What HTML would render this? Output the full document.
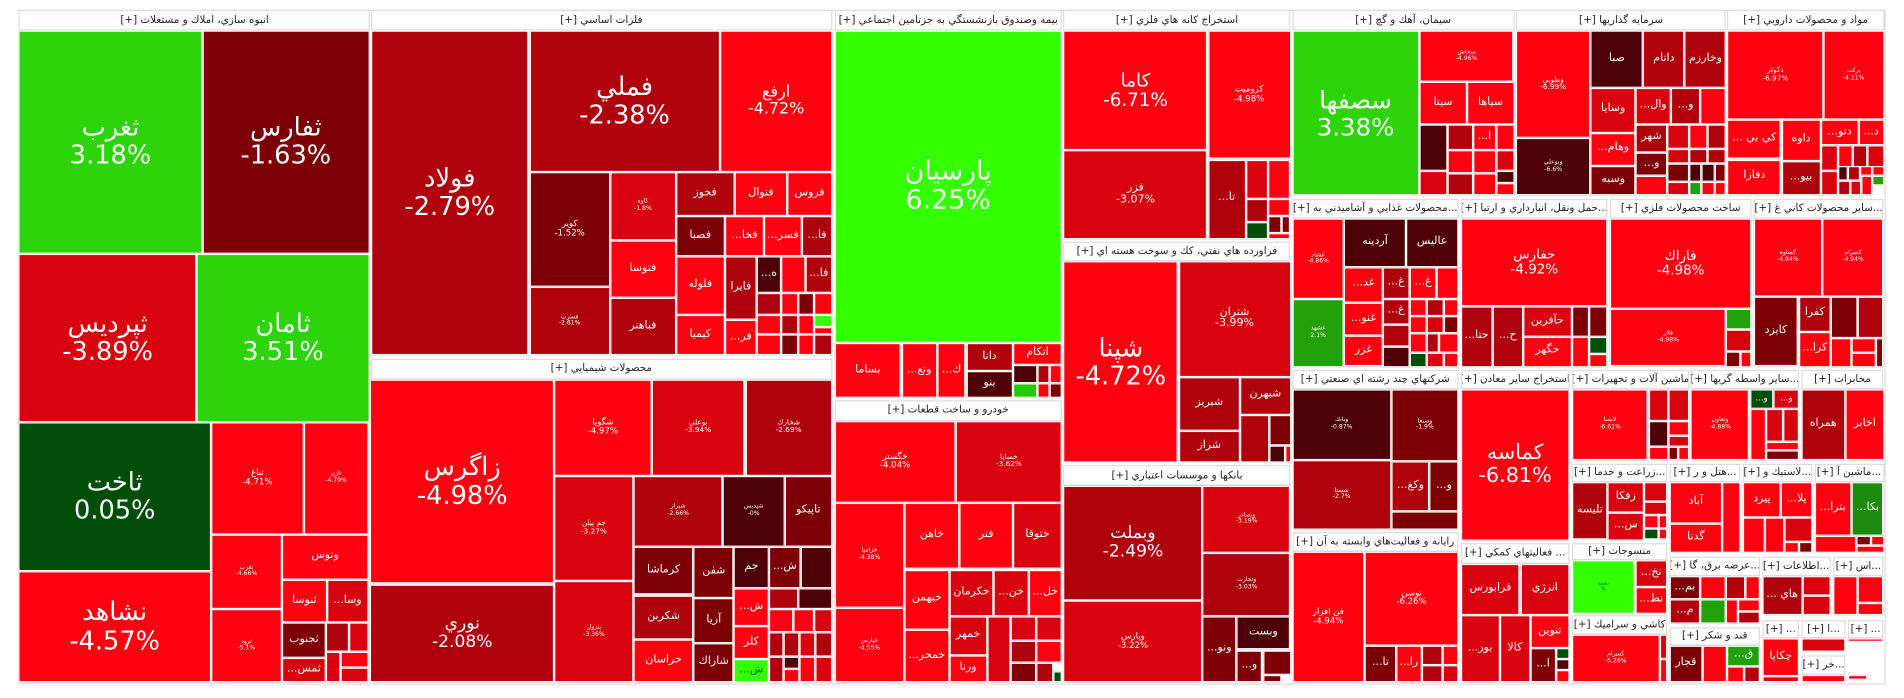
<!DOCTYPE html>
<html><head><meta charset="utf-8">
<style>
html,body{margin:0;padding:0;background:#fff;width:1904px;height:698px;overflow:hidden}
#m{position:absolute;left:0;top:0;width:1560px;height:572px;transform:scale(1.2205);transform-origin:0 0;font-family:"DejaVu Sans","Liberation Sans",sans-serif}
.c{position:absolute;box-sizing:border-box;border:1px solid #fff;color:#fff;display:flex;flex-direction:column;align-items:center;justify-content:center;text-align:center;overflow:hidden;line-height:1.1;white-space:nowrap}
.h{position:absolute;box-sizing:border-box;border:1px solid #ddd;background:#fff;color:#222;font-size:8.5px;display:flex;align-items:center;justify-content:center;direction:rtl;overflow:hidden;white-space:nowrap}
.r{background:#ff0010}.r2{background:#d9030f}.r3{background:#b0020c}.r4{background:#7d0006}.r5{background:#4d0005}
.g1{background:#2dd40a}.g2{background:#33ff00}.g3{background:#014d0a}.g4{background:#22a00a}
.b{font-size:21px}.m{font-size:12px}.s{font-size:9px}.t{font-size:5px}
</style></head><body><div id="m">
<div style="position:absolute;left:14.5px;top:7.5px;width:1530px;height:553px;border:1px solid #ddd;box-sizing:border-box"></div>

<!-- sec1 -->
<div class="h" style="left:15.4px;top:8.2px;width:288px;height:17.2px">انبوه سازي، املاك و مستغلات [+]</div>
<div class="c g1 b" style="left:15.4px;top:25.4px;width:150.3px;height:182.2px">ثغرب<br>3.18%</div>
<div class="c r4 b" style="left:165.7px;top:25.4px;width:137px;height:182.2px">ثفارس<br>-1.63%</div>
<div class="c r2 b" style="left:15.4px;top:207.6px;width:145.6px;height:138px">ثپرديس<br>-3.89%</div>
<div class="c g1 b" style="left:161px;top:207.6px;width:141.8px;height:138px">ثامان<br>3.51%</div>
<div class="c g3 b" style="left:15.4px;top:345.5px;width:157.2px;height:122.3px">ثاخت<br>0.05%</div>
<div class="c r b" style="left:15.4px;top:467.8px;width:157.2px;height:91.5px">نشاهد<br>-4.57%</div>
<div class="c r" style="left:172.6px;top:345.5px;width:76.5px;height:92px;font-size:7px">ثباغ<br>-4.71%</div>
<div class="c r t" style="left:249.1px;top:345.5px;width:52.5px;height:92px">ثاژن<br>-4.79%</div>
<div class="c r t" style="left:172.6px;top:437.5px;width:58.5px;height:61.7px">ثغرب<br>-4.66%</div>
<div class="c r t" style="left:172.6px;top:499.2px;width:58.5px;height:60px">ثرود<br>-5.1%</div>
<div class="c r s" style="left:231.1px;top:437.5px;width:70.5px;height:37.7px">وتوس</div>
<div class="c r s" style="left:231.1px;top:475.2px;width:36.6px;height:34.7px">ثنوسا</div>
<div class="c r2 s" style="left:267.7px;top:475.2px;width:33.9px;height:34.7px">...وسا</div>
<div class="c r4 s" style="left:231.1px;top:509.9px;width:35.8px;height:29.5px">ثجنوب</div>
<div class="c r3" style="left:266.9px;top:509.9px;width:18.8px;height:24.5px"></div>
<div class="c r2" style="left:285.7px;top:509.9px;width:15.9px;height:24.5px"></div>
<div class="c r2 s" style="left:231.1px;top:539.4px;width:35.8px;height:19.9px">...ثمس</div>
<div class="c r2" style="left:266.9px;top:534.4px;width:12.5px;height:24.9px"></div>
<div class="c r" style="left:279.4px;top:534.4px;width:22.2px;height:12.6px"></div>
<div class="c r2" style="left:279.4px;top:547px;width:22.2px;height:12.3px"></div>

<!-- sec2 -->
<div class="h" style="left:303.6px;top:8.2px;width:378.2px;height:17.2px">فلزات اساسي [+]</div>
<div class="c r3 b" style="left:303.6px;top:25.4px;width:129.9px;height:266px">فولاد<br>-2.79%</div>
<div class="c r3 b" style="left:433.5px;top:25.4px;width:156.5px;height:115.2px">فملي<br>-2.38%</div>
<div class="c r" style="left:590px;top:25.4px;width:91.8px;height:115.2px;font-size:13px">ارفع<br>-4.72%</div>
<div class="c r4" style="left:433.5px;top:140.6px;width:66.5px;height:94.3px;font-size:7px">كوير<br>-1.52%</div>
<div class="c r3 t" style="left:433.5px;top:234.9px;width:66.5px;height:56.5px">فسرب<br>-2.61%</div>
<div class="c r2 t" style="left:500px;top:140.6px;width:53.5px;height:56px">كاوه<br>-1.8%</div>
<div class="c r s" style="left:500px;top:196.6px;width:53.5px;height:47.8px">فتوسا</div>
<div class="c r3 s" style="left:500px;top:244.4px;width:53.5px;height:47px">فباهنر</div>
<div class="c r3 s" style="left:553.5px;top:140.6px;width:48.5px;height:36.4px">فخوز</div>
<div class="c r s" style="left:602px;top:140.6px;width:43px;height:36.4px">فنوال</div>
<div class="c r s" style="left:645px;top:140.6px;width:36.8px;height:36.4px">فروس</div>
<div class="c r4 s" style="left:553.5px;top:177px;width:40.5px;height:33px">فصبا</div>
<div class="c r s" style="left:594px;top:177px;width:32px;height:33px">...فخا</div>
<div class="c r s" style="left:626px;top:177px;width:31px;height:33px">...فسر</div>
<div class="c r3 s" style="left:657px;top:177px;width:24.8px;height:33px">...فا</div>
<div class="c r s" style="left:553.5px;top:210px;width:40.5px;height:48px">فلوله</div>
<div class="c r s" style="left:553.5px;top:258px;width:40.5px;height:33.4px">كيميا</div>
<div class="c r3 s" style="left:594px;top:210px;width:26px;height:52px">فايرا</div>
<div class="c r s" style="left:594px;top:262px;width:26px;height:29.4px">...فر</div>
<div class="c r5 s" style="left:620px;top:210px;width:20px;height:30px">...ه</div>
<div class="c r" style="left:640px;top:210px;width:20px;height:30px"></div>
<div class="c r3 s" style="left:660px;top:210px;width:21.8px;height:30px">...فا</div>
<div class="c r3" style="left:620px;top:240px;width:20px;height:18px"></div>
<div class="c r" style="left:640px;top:240px;width:14px;height:18px"></div>
<div class="c r4" style="left:654px;top:240px;width:13px;height:18px"></div>
<div class="c r" style="left:667px;top:240px;width:14.8px;height:18px"></div>
<div class="c r" style="left:620px;top:258px;width:20px;height:16px"></div>
<div class="c r3" style="left:640px;top:258px;width:14px;height:16px"></div>
<div class="c r" style="left:654px;top:258px;width:13px;height:16px"></div>
<div class="c g2" style="left:667px;top:258px;width:14.8px;height:10px"></div>
<div class="c r" style="left:667px;top:268px;width:14.8px;height:6px"></div>
<div class="c r" style="left:620px;top:274px;width:20px;height:17.4px"></div>
<div class="c r4" style="left:640px;top:274px;width:14px;height:17.4px"></div>
<div class="c r" style="left:654px;top:274px;width:13px;height:17.4px"></div>
<div class="c r3" style="left:667px;top:274px;width:14.8px;height:17.4px"></div>

<!-- sec3 chem -->
<div class="h" style="left:303.6px;top:293.6px;width:378.2px;height:17px">محصولات شيميايي [+]</div>
<div class="c r b" style="left:303.2px;top:310.6px;width:151.1px;height:167.9px">زاگرس<br>-4.98%</div>
<div class="c r3" style="left:303.2px;top:478.5px;width:151.1px;height:80.8px;font-size:14px">نوري<br>-2.08%</div>
<div class="c r" style="left:454.3px;top:310.6px;width:79.4px;height:79.2px;font-size:7px">شگويا<br>-4.97%</div>
<div class="c r2" style="left:533.7px;top:310.6px;width:76.8px;height:79.2px;font-size:6px">بوعلي<br>-3.94%</div>
<div class="c r3" style="left:610.5px;top:310.6px;width:71.3px;height:79.2px;font-size:6px">شخارك<br>-2.69%</div>
<div class="c r2" style="left:454.3px;top:389.8px;width:64.7px;height:86px;font-size:6px">جم پيلن<br>-3.27%</div>
<div class="c r2 t" style="left:454.3px;top:475.8px;width:64.7px;height:83.5px">پترول<br>-3.36%</div>
<div class="c r3 t" style="left:519px;top:389.8px;width:73.2px;height:58.1px">شيراز<br>-2.66%</div>
<div class="c r5 t" style="left:592.2px;top:389.8px;width:50.5px;height:58.1px">شپديس<br>-0%</div>
<div class="c r4 s" style="left:642.7px;top:389.8px;width:39.1px;height:58.1px">تاپيكو</div>
<div class="c r4 s" style="left:519px;top:447.9px;width:49.4px;height:39.6px">كرماشا</div>
<div class="c r3 s" style="left:519px;top:487.5px;width:49.4px;height:36.9px">شكربن</div>
<div class="c r s" style="left:519px;top:524.4px;width:49.4px;height:34.9px">خراسان</div>
<div class="c r4 s" style="left:568.4px;top:447.9px;width:32.9px;height:42.4px">شفن</div>
<div class="c r4 s" style="left:568.4px;top:490.3px;width:32.9px;height:36.8px">آريا</div>
<div class="c r4 s" style="left:568.4px;top:527.1px;width:32.9px;height:32.2px">شاراك</div>
<div class="c r5 s" style="left:601.3px;top:447.9px;width:28.7px;height:34.2px">جم</div>
<div class="c r4 s" style="left:630px;top:447.9px;width:26.2px;height:34.2px">...ش</div>
<div class="c r5" style="left:656.2px;top:447.9px;width:25.6px;height:34.2px"></div>
<div class="c r s" style="left:601.3px;top:482.1px;width:28.7px;height:30.8px">...ش</div>
<div class="c r s" style="left:601.3px;top:512.9px;width:28.7px;height:27.3px">كلر</div>
<div class="c g2 s" style="left:601.3px;top:540.2px;width:28.7px;height:19.1px;color:#063">...ش</div>
<div class="c r3" style="left:630px;top:482.1px;width:24.4px;height:17.2px"></div>
<div class="c r5" style="left:654.4px;top:482.1px;width:27.4px;height:17.2px"></div>
<div class="c r" style="left:630px;top:499.3px;width:20px;height:18.3px"></div>
<div class="c r" style="left:650px;top:499.3px;width:17px;height:18.3px"></div>
<div class="c r2" style="left:667px;top:499.3px;width:14.8px;height:18.3px"></div>
<div class="c r3" style="left:630px;top:517.6px;width:12px;height:20.4px"></div>
<div class="c r3" style="left:642px;top:517.6px;width:13px;height:20.4px"></div>
<div class="c r2" style="left:655px;top:517.6px;width:13px;height:20.4px"></div>
<div class="c r3" style="left:668px;top:517.6px;width:13.8px;height:20.4px"></div>
<div class="c r3" style="left:630px;top:538px;width:12px;height:21.3px"></div>
<div class="c r5" style="left:642px;top:538px;width:13px;height:10px"></div>
<div class="c r" style="left:642px;top:548px;width:13px;height:11.3px"></div>
<div class="c r" style="left:655px;top:538px;width:13px;height:21.3px"></div>
<div class="c r2" style="left:668px;top:538px;width:13.8px;height:21.3px"></div>

<!-- sec4 insurance -->
<div class="h" style="left:683.6px;top:8.2px;width:186.6px;height:17.2px">بيمه وصندوق بازنشستگي به جزتامين اجتماعي [+]</div>
<div class="c g2" style="left:683.6px;top:25.4px;width:186.6px;height:255.9px;font-size:22px">پارسيان<br>6.25%</div>
<div class="c r s" style="left:683.6px;top:281.3px;width:54.9px;height:45.1px">بساما</div>
<div class="c r s" style="left:738.5px;top:281.3px;width:29.3px;height:45.1px">...وتع</div>
<div class="c r s" style="left:767.8px;top:281.3px;width:23.7px;height:45.1px">...ك</div>
<div class="c r3 s" style="left:791.5px;top:281.3px;width:38.5px;height:22.4px">دانا</div>
<div class="c r5 s" style="left:791.5px;top:303.7px;width:38.5px;height:22.7px">بنو</div>
<div class="c r s" style="left:830px;top:281.3px;width:40.2px;height:17.8px">اتكام</div>
<div class="c r5" style="left:830px;top:299.1px;width:20px;height:14.5px"></div>
<div class="c r3" style="left:850px;top:299.1px;width:10px;height:14.5px"></div>
<div class="c r" style="left:860px;top:299.1px;width:10.2px;height:14.5px"></div>
<div class="c g4" style="left:830px;top:313.6px;width:20px;height:12.8px;background:#22cc00"></div>
<div class="c r" style="left:850px;top:313.6px;width:10px;height:12.8px"></div>
<div class="c r4" style="left:860px;top:313.6px;width:10.2px;height:12.8px"></div>

<!-- sec5 auto -->
<div class="h" style="left:683.6px;top:327.8px;width:186.6px;height:17.2px">خودرو و ساخت قطعات [+]</div>
<div class="c r" style="left:683.6px;top:345px;width:99.5px;height:66.6px;font-size:7px">خگستر<br>-4.04%</div>
<div class="c r2" style="left:783.1px;top:345px;width:87.1px;height:66.6px;font-size:6px">خساپا<br>-3.62%</div>
<div class="c r t" style="left:683.6px;top:411.6px;width:57.5px;height:86.8px">خزاميا<br>-4.38%</div>
<div class="c r t" style="left:683.6px;top:498.4px;width:57.5px;height:60.9px">خپارس<br>-4.55%</div>
<div class="c r s" style="left:741.1px;top:411.6px;width:44.9px;height:54.9px">خاهن</div>
<div class="c r s" style="left:786px;top:411.6px;width:44px;height:54.9px">فنر</div>
<div class="c r2 s" style="left:830px;top:411.6px;width:40.2px;height:54.9px">ختوقا</div>
<div class="c r s" style="left:741.1px;top:466.5px;width:36.6px;height:49.7px">خبهمن</div>
<div class="c r s" style="left:741.1px;top:516.2px;width:36.6px;height:43.1px">...خمحر</div>
<div class="c r2 s" style="left:777.7px;top:466.5px;width:36.5px;height:38.2px">خكرمان</div>
<div class="c r2 s" style="left:814.2px;top:466.5px;width:28.5px;height:38.2px">...خن</div>
<div class="c r s" style="left:842.7px;top:466.5px;width:27.5px;height:38.2px">...خل</div>
<div class="c r2 s" style="left:777.7px;top:504.7px;width:31px;height:32px">خمهر</div>
<div class="c r s" style="left:777.7px;top:536.7px;width:31px;height:22.6px">ورنا</div>
<div class="c r2" style="left:808.7px;top:504.7px;width:19.4px;height:54.6px"></div>
<div class="c r2" style="left:828.1px;top:504.7px;width:21px;height:20px"></div>
<div class="c r2" style="left:849.1px;top:504.7px;width:21.1px;height:20px"></div>
<div class="c r3" style="left:828.1px;top:524.7px;width:21px;height:18px"></div>
<div class="c r" style="left:849.1px;top:524.7px;width:21.1px;height:18px"></div>
<div class="c r4" style="left:828.1px;top:542.7px;width:21px;height:16.6px"></div>
<div class="c r3" style="left:849.1px;top:542.7px;width:14px;height:16.6px"></div>
<div class="c g3" style="left:863.1px;top:550px;width:7.1px;height:9.3px"></div>

<!-- sec6 mining -->
<div class="h" style="left:871.2px;top:8.2px;width:186.3px;height:17.2px">استخراج كانه هاي فلزي [+]</div>
<div class="c r" style="left:871.2px;top:25.4px;width:118.3px;height:98px;font-size:15px">كاما<br>-6.71%</div>
<div class="c r" style="left:989.5px;top:25.4px;width:68px;height:105.1px;font-size:7px">كروميت<br>-4.98%</div>
<div class="c r2" style="left:871.2px;top:123.4px;width:118.3px;height:72.4px;font-size:9px">فزر<br>-3.07%</div>
<div class="c r3 s" style="left:989.5px;top:130.5px;width:31.1px;height:65.3px">...تا</div>
<div class="c r2" style="left:1020.6px;top:130.5px;width:18.6px;height:32.5px"></div>
<div class="c r" style="left:1039.2px;top:130.5px;width:18.3px;height:32px"></div>
<div class="c r3" style="left:1020.6px;top:163px;width:18.6px;height:18.6px"></div>
<div class="c r" style="left:1039.2px;top:162.5px;width:18.3px;height:14.5px"></div>
<div class="c g3" style="left:1020.6px;top:181.6px;width:18.6px;height:14.2px"></div>
<div class="c r4" style="left:1039.2px;top:177px;width:10.4px;height:14px"></div>
<div class="c r4" style="left:1049.6px;top:177px;width:7.9px;height:14px"></div>
<div class="c r" style="left:1039.2px;top:191px;width:18.3px;height:4.8px"></div>

<!-- sec7 oil -->
<div class="h" style="left:871.2px;top:198px;width:186.3px;height:16.4px">فراورده هاي نفتي، كك و سوخت هسته اي [+]</div>
<div class="c r b" style="left:871.2px;top:214.4px;width:94.3px;height:164.6px">شپنا<br>-4.72%</div>
<div class="c r2" style="left:965.5px;top:214.4px;width:92px;height:94.2px;font-size:9px">شتران<br>-3.99%</div>
<div class="c r3 s" style="left:965.5px;top:308.6px;width:50.5px;height:44.2px">شبريز</div>
<div class="c r3 s" style="left:965.5px;top:352.8px;width:50.5px;height:26.2px">شراز</div>
<div class="c r3 s" style="left:1016px;top:308.6px;width:41.5px;height:31.4px">شبهرن</div>
<div class="c r3" style="left:1016px;top:340px;width:24px;height:39px"></div>
<div class="c r4" style="left:1040px;top:340px;width:17.5px;height:25.4px"></div>
<div class="c r5" style="left:1040px;top:365.4px;width:12.5px;height:13.6px"></div>
<div class="c r" style="left:1052.5px;top:365.4px;width:5px;height:13.6px"></div>

<!-- sec8 banks -->
<div class="h" style="left:871.2px;top:381.3px;width:186.3px;height:16.9px">بانكها و موسسات اعتباري [+]</div>
<div class="c r3" style="left:871.2px;top:398.2px;width:114.2px;height:93.8px;font-size:14px">وبملت<br>-2.49%</div>
<div class="c r2" style="left:871.2px;top:492px;width:114.2px;height:67.3px;font-size:7px">وپارس<br>-3.22%</div>
<div class="c r2 t" style="left:985.4px;top:398.2px;width:72.1px;height:54.6px">وبصادر<br>-3.19%</div>
<div class="c r3 t" style="left:985.4px;top:452.8px;width:72.1px;height:52.4px">وتجارت<br>-3.03%</div>
<div class="c r4 s" style="left:985.4px;top:505.2px;width:27.3px;height:54.1px">...ونو</div>
<div class="c r5 s" style="left:1012.7px;top:505.2px;width:44.8px;height:27.3px">وبست</div>
<div class="c r4 s" style="left:1012.7px;top:532.5px;width:21.8px;height:26.8px">...و</div>
<div class="c r4" style="left:1034.5px;top:532.5px;width:23px;height:20.5px"></div>
<div class="c r4" style="left:1034.5px;top:553px;width:15px;height:6.3px"></div>

<!-- sec9 cement -->
<div class="h" style="left:1058.6px;top:8.2px;width:182px;height:17.2px">سيمان، آهك و گچ [+]</div>
<div class="c g1" style="left:1058.6px;top:25.4px;width:104.1px;height:134.4px;font-size:20px">سصفها<br>3.38%</div>
<div class="c r t" style="left:1162.7px;top:25.4px;width:77.8px;height:41.5px">سخاش<br>-4.96%</div>
<div class="c r s" style="left:1162.7px;top:66.9px;width:39.3px;height:35.5px">سيتا</div>
<div class="c r s" style="left:1202px;top:66.9px;width:38.5px;height:35.5px">سياها</div>
<div class="c r5" style="left:1162.7px;top:102.4px;width:23.3px;height:37.6px"></div>
<div class="c r2" style="left:1162.7px;top:140px;width:23.3px;height:19.8px"></div>
<div class="c r3" style="left:1186px;top:102.4px;width:21px;height:20.6px"></div>
<div class="c r s" style="left:1207px;top:102.4px;width:18.5px;height:20.6px">...ا</div>
<div class="c r" style="left:1225.5px;top:102.4px;width:15px;height:20.6px"></div>
<div class="c r" style="left:1186px;top:123px;width:21px;height:19px"></div>
<div class="c r" style="left:1207px;top:123px;width:18.5px;height:19px"></div>
<div class="c r2" style="left:1225.5px;top:123px;width:15px;height:17px"></div>
<div class="c r3" style="left:1186px;top:142px;width:21px;height:17.8px"></div>
<div class="c r" style="left:1207px;top:142px;width:18.5px;height:17.8px"></div>
<div class="c r5" style="left:1225.5px;top:140px;width:15px;height:10px"></div>
<div class="c r" style="left:1225.5px;top:150px;width:15px;height:9.8px"></div>

<!-- sec10 investment -->
<div class="h" style="left:1241.9px;top:8.2px;width:172.6px;height:17.2px">سرمايه گذاريها [+]</div>
<div class="c r" style="left:1241.9px;top:25.4px;width:61.4px;height:87.9px;font-size:6px">وطوبي<br>-6.99%</div>
<div class="c r5 t" style="left:1241.9px;top:113.3px;width:61.4px;height:46.5px">وبوعلي<br>-6.6%</div>
<div class="c r5 s" style="left:1303.3px;top:25.4px;width:42.9px;height:46.2px">صبا</div>
<div class="c r3 s" style="left:1346.2px;top:25.4px;width:34.2px;height:46.2px">داتام</div>
<div class="c r3 s" style="left:1380.4px;top:25.4px;width:34.1px;height:46.2px">وخارزم</div>
<div class="c r2 s" style="left:1303.3px;top:71.6px;width:36.9px;height:37.6px">وسايا</div>
<div class="c r s" style="left:1303.3px;top:109.2px;width:36.9px;height:26.5px">...وهام</div>
<div class="c r4 s" style="left:1303.3px;top:135.7px;width:36.9px;height:24.1px">وسبه</div>
<div class="c r2 s" style="left:1340.2px;top:71.6px;width:28.7px;height:30px">...وال</div>
<div class="c r3 s" style="left:1368.9px;top:71.6px;width:24.5px;height:30px">...و</div>
<div class="c r" style="left:1393.4px;top:71.6px;width:21.1px;height:30px"></div>
<div class="c r3 s" style="left:1340.2px;top:101.6px;width:25.9px;height:23.4px">شهر</div>
<div class="c r4 s" style="left:1340.2px;top:125px;width:25.9px;height:19px">...و</div>
<div class="c r" style="left:1340.2px;top:144px;width:25.9px;height:15.8px"></div>
<div class="c r2" style="left:1366.1px;top:101.6px;width:18px;height:20.4px"></div>
<div class="c r" style="left:1384.1px;top:101.6px;width:15px;height:20.4px"></div>
<div class="c r3" style="left:1399.1px;top:101.6px;width:15.4px;height:20.4px"></div>
<div class="c r2" style="left:1366.1px;top:122px;width:18px;height:12.4px"></div>
<div class="c r3" style="left:1384.1px;top:122px;width:15px;height:12.4px"></div>
<div class="c r3" style="left:1399.1px;top:122px;width:15.4px;height:12.4px"></div>
<div class="c r4" style="left:1366.1px;top:134.4px;width:18px;height:14.6px"></div>
<div class="c r5" style="left:1384.1px;top:134.4px;width:9.5px;height:14.6px"></div>
<div class="c r5" style="left:1393.6px;top:134.4px;width:11px;height:14.6px"></div>
<div class="c r4" style="left:1404.6px;top:134.4px;width:9.9px;height:14.6px"></div>
<div class="c r2" style="left:1366.1px;top:149px;width:18px;height:10.8px"></div>
<div class="c g4" style="left:1384.1px;top:149px;width:9.5px;height:10.8px"></div>
<div class="c r" style="left:1393.6px;top:149px;width:11px;height:10.8px"></div>
<div class="c r" style="left:1404.6px;top:149px;width:9.9px;height:10.8px"></div>

<!-- sec11 pharma -->
<div class="h" style="left:1415.3px;top:8.2px;width:128.3px;height:17.2px">مواد و محصولات دارويي [+]</div>
<div class="c r" style="left:1415.3px;top:25.4px;width:78.7px;height:72.9px;font-size:6px">دكوثر<br>-6.97%</div>
<div class="c r t" style="left:1494px;top:25.4px;width:49.6px;height:72.9px">بركت<br>-4.11%</div>
<div class="c r s" style="left:1415.3px;top:98.3px;width:44.2px;height:32.2px">... كي بي</div>
<div class="c r s" style="left:1415.3px;top:130.5px;width:44.2px;height:29.3px">دفارا</div>
<div class="c r s" style="left:1459.5px;top:98.3px;width:32.3px;height:33.3px">داوه</div>
<div class="c r3 s" style="left:1459.5px;top:131.6px;width:32.3px;height:28.2px">...بيو</div>
<div class="c r s" style="left:1491.8px;top:98.3px;width:30.8px;height:21px">...دتو</div>
<div class="c r s" style="left:1522.6px;top:98.3px;width:21px;height:21px">...د</div>
<div class="c r2" style="left:1491.8px;top:119.3px;width:14.5px;height:21px"></div>
<div class="c r" style="left:1506.3px;top:119.3px;width:12px;height:21px"></div>
<div class="c r3" style="left:1518.3px;top:119.3px;width:12px;height:21px"></div>
<div class="c r2" style="left:1530.3px;top:119.3px;width:13.3px;height:21px"></div>
<div class="c r2" style="left:1491.8px;top:140.3px;width:14.5px;height:19.5px"></div>
<div class="c r5" style="left:1506.3px;top:136px;width:8px;height:12px"></div>
<div class="c r3" style="left:1514.3px;top:136px;width:10px;height:12px"></div>
<div class="c r" style="left:1524.3px;top:136px;width:10px;height:8px"></div>
<div class="c r" style="left:1534.3px;top:136px;width:9.3px;height:8px"></div>
<div class="c r3" style="left:1506.3px;top:148px;width:10px;height:11.8px"></div>
<div class="c r2" style="left:1516.3px;top:148px;width:9px;height:11.8px"></div>
<div class="c r" style="left:1525.3px;top:144px;width:9px;height:15.8px"></div>
<div class="c g4" style="left:1534.3px;top:144px;width:9.3px;height:8px"></div>

<!-- food -->
<div class="h" style="left:1058.6px;top:163px;width:136.4px;height:16px">...محصولات غذايي و آشاميدني به [+]</div>
<div class="c r t" style="left:1058.6px;top:179px;width:42.8px;height:66px">غشاد<br>-4.86%</div>
<div class="c g4 t" style="left:1058.6px;top:245px;width:42.8px;height:55.5px">غشهد<br>2.1%</div>
<div class="c r5 s" style="left:1101.4px;top:179px;width:50.4px;height:39.5px">آردينه</div>
<div class="c r5 s" style="left:1151.8px;top:179px;width:43.2px;height:39.5px">عاليس</div>
<div class="c r s" style="left:1101.4px;top:218.5px;width:31.5px;height:29.5px">...غد</div>
<div class="c r3 s" style="left:1132.9px;top:218.5px;width:22.1px;height:26px">...غ</div>
<div class="c r s" style="left:1155px;top:218.5px;width:22.1px;height:26px">...غ</div>
<div class="c r" style="left:1177.1px;top:218.5px;width:17.9px;height:26px"></div>
<div class="c r s" style="left:1101.4px;top:248px;width:31.5px;height:27.3px">...غنو</div>
<div class="c r s" style="left:1101.4px;top:275.3px;width:31.5px;height:25.2px">غزر</div>
<div class="c r3 s" style="left:1132.9px;top:244.5px;width:22.1px;height:21.5px">...غ</div>
<div class="c r3" style="left:1132.9px;top:266px;width:22.1px;height:18px"></div>
<div class="c r5" style="left:1132.9px;top:284px;width:22.1px;height:16.5px"></div>
<div class="c r" style="left:1155px;top:244.5px;width:14px;height:14px"></div>
<div class="c r3" style="left:1169px;top:244.5px;width:14px;height:14px"></div>
<div class="c r" style="left:1183px;top:244.5px;width:12px;height:14px"></div>
<div class="c r" style="left:1155px;top:258.5px;width:14px;height:14px"></div>
<div class="c r2" style="left:1169px;top:258.5px;width:14px;height:14px"></div>
<div class="c r4" style="left:1183px;top:258.5px;width:12px;height:14px"></div>
<div class="c r" style="left:1155px;top:272.5px;width:14px;height:16.5px"></div>
<div class="c r3" style="left:1169px;top:272.5px;width:10px;height:16.5px"></div>
<div class="c r" style="left:1179px;top:272.5px;width:16px;height:16.5px"></div>
<div class="c g3" style="left:1155px;top:289px;width:14px;height:11.5px"></div>
<div class="c r2" style="left:1169px;top:289px;width:14px;height:11.5px"></div>
<div class="c r" style="left:1183px;top:289px;width:12px;height:11.5px"></div>

<!-- transport -->
<div class="h" style="left:1196.9px;top:163px;width:120.5px;height:16px">...حمل ونقل، انبارداري و ارتبا [+]</div>
<div class="c r" style="left:1196.9px;top:179px;width:120.5px;height:72px;font-size:11px">حفارس<br>-4.92%</div>
<div class="c r3 s" style="left:1196.9px;top:251px;width:25.9px;height:49.5px">...حتا</div>
<div class="c r3 s" style="left:1222.8px;top:251px;width:25.2px;height:49.5px">...ح</div>
<div class="c r2 s" style="left:1248px;top:251px;width:39.5px;height:25px">حآفرين</div>
<div class="c r s" style="left:1248px;top:276px;width:39.5px;height:24.5px">حگهر</div>
<div class="c r4" style="left:1287.5px;top:251px;width:14.8px;height:25px"></div>
<div class="c r4" style="left:1302.3px;top:251px;width:15.1px;height:25px"></div>
<div class="c r" style="left:1287.5px;top:276px;width:14.8px;height:24.5px"></div>
<div class="c g3" style="left:1302.3px;top:276px;width:15.1px;height:14px"></div>
<div class="c r" style="left:1302.3px;top:290px;width:15.1px;height:10.5px"></div>

<!-- metal products -->
<div class="h" style="left:1319.3px;top:163px;width:115.5px;height:16px">ساخت محصولات فلزي [+]</div>
<div class="c r" style="left:1319.3px;top:179px;width:115.5px;height:73.7px;font-size:11px">فاراك<br>-4.98%</div>
<div class="c r t" style="left:1319.3px;top:252.7px;width:95px;height:47.8px">فلار<br>-4.98%</div>
<div class="c g4" style="left:1414.3px;top:252.7px;width:20.5px;height:17.7px"></div>
<div class="c r2" style="left:1414.3px;top:270.4px;width:20.5px;height:17.6px"></div>
<div class="c r4" style="left:1414.3px;top:288px;width:12px;height:12.5px"></div>
<div class="c r" style="left:1426.3px;top:288px;width:8.5px;height:12.5px"></div>

<!-- other non-metal -->
<div class="h" style="left:1436.6px;top:163px;width:106.9px;height:16px">...ساير محصولات كاني غ [+]</div>
<div class="c r t" style="left:1436.6px;top:179px;width:56.5px;height:63.6px">كساوه<br>-4.94%</div>
<div class="c r t" style="left:1493.1px;top:179px;width:50.4px;height:63.6px">كسرام<br>-4.94%</div>
<div class="c r4 s" style="left:1436.6px;top:242.6px;width:36.9px;height:57.9px">كايزد</div>
<div class="c r3 s" style="left:1473.5px;top:242.6px;width:26.9px;height:29.4px">كفرا</div>
<div class="c r s" style="left:1473.5px;top:272px;width:26.9px;height:28.5px">...كرا</div>
<div class="c r4" style="left:1500.4px;top:242.6px;width:21.4px;height:34.4px"></div>
<div class="c r3" style="left:1521.8px;top:242.6px;width:21.7px;height:34.4px"></div>
<div class="c r" style="left:1500.4px;top:277px;width:17px;height:23.5px"></div>
<div class="c r" style="left:1517.4px;top:277px;width:20px;height:12px"></div>
<div class="c r" style="left:1517.4px;top:289px;width:20px;height:11.5px"></div>
<div class="c r4" style="left:1537.4px;top:277px;width:6.1px;height:23.5px"></div>

<!-- multi industrial -->
<div class="h" style="left:1058.6px;top:303px;width:136.4px;height:15.6px">شركتهاي چند رشته اي صنعتي [+]</div>
<div class="c r5 t" style="left:1058.6px;top:318.6px;width:81.3px;height:58.4px">وبانك<br>-0.87%</div>
<div class="c r4 t" style="left:1139.9px;top:318.6px;width:55.1px;height:59.7px">وصنعا<br>-1.9%</div>
<div class="c r3 t" style="left:1058.6px;top:377px;width:81.3px;height:56.8px">شستا<br>-2.7%</div>
<div class="c r3 s" style="left:1139.9px;top:378.3px;width:31.5px;height:41px">...وكغ</div>
<div class="c r4 s" style="left:1171.4px;top:378.3px;width:23.6px;height:41px">...و</div>
<div class="c r4" style="left:1139.9px;top:419.3px;width:55.1px;height:14.5px"></div>

<!-- computer -->
<div class="h" style="left:1058.6px;top:435.7px;width:136.4px;height:16.3px">رايانه و فعاليت‌هاي وابسته به آن [+]</div>
<div class="c r" style="left:1058.6px;top:452px;width:59.5px;height:107.3px;font-size:7px">فن افزار<br>-4.94%</div>
<div class="c r" style="left:1118.1px;top:452px;width:76.9px;height:76.6px;font-size:7px">توسن<br>-6.26%</div>
<div class="c r4 s" style="left:1118.1px;top:528.6px;width:25.9px;height:30.7px">...تا</div>
<div class="c r s" style="left:1144px;top:528.6px;width:20.5px;height:30.7px">...را</div>
<div class="c r3" style="left:1164.5px;top:528.6px;width:17px;height:16px"></div>
<div class="c r" style="left:1181.5px;top:528.6px;width:13.5px;height:16px"></div>
<div class="c r3" style="left:1164.5px;top:544.6px;width:17px;height:14.7px"></div>
<div class="c r2" style="left:1181.5px;top:544.6px;width:13.5px;height:14.7px"></div>

<!-- other mining -->
<div class="h" style="left:1196.9px;top:303px;width:89px;height:15.6px">استخراج ساير معادن [+]</div>
<div class="c r" style="left:1196.9px;top:318.6px;width:89px;height:124.4px;font-size:17px">كماسه<br>-6.81%</div>
<!-- support -->
<div class="h" style="left:1196.9px;top:445.2px;width:89px;height:16.4px">... فعاليتهاي كمكي [+]</div>
<div class="c r2 s" style="left:1196.9px;top:461.6px;width:48.6px;height:42.4px">فرابورس</div>
<div class="c r2 s" style="left:1245.5px;top:461.6px;width:40.4px;height:42.4px">انرژي</div>
<div class="c r2 s" style="left:1196.9px;top:504px;width:31.7px;height:55.3px">...بور</div>
<div class="c r2 s" style="left:1228.6px;top:504px;width:25.1px;height:55.3px">كالا</div>
<div class="c r s" style="left:1253.7px;top:504px;width:32.2px;height:27px">تنوين</div>
<div class="c r4 s" style="left:1253.7px;top:531px;width:21.1px;height:28.3px">...ا</div>
<div class="c g3" style="left:1274.8px;top:531px;width:11.1px;height:9px"></div>
<div class="c r5" style="left:1274.8px;top:540px;width:11.1px;height:9px"></div>
<div class="c r" style="left:1274.8px;top:549px;width:11.1px;height:10.3px"></div>

<!-- machinery -->
<div class="h" style="left:1287.8px;top:303px;width:95.8px;height:15.6px">ماشين آلات و تجهيزات [+]</div>
<div class="c r t" style="left:1287.8px;top:318.6px;width:62.7px;height:58.4px">لابسا<br>-6.61%</div>
<div class="c r2" style="left:1350.5px;top:318.6px;width:16.8px;height:26.1px"></div>
<div class="c r2" style="left:1367.3px;top:318.6px;width:16.3px;height:26.1px"></div>
<div class="c r5" style="left:1350.5px;top:344.7px;width:16.8px;height:21.3px"></div>
<div class="c r" style="left:1367.3px;top:344.7px;width:16.3px;height:12px"></div>
<div class="c r2" style="left:1367.3px;top:356.7px;width:16.3px;height:9.3px"></div>
<div class="c r" style="left:1350.5px;top:366px;width:16.8px;height:11px"></div>
<div class="c r4" style="left:1367.3px;top:366px;width:8px;height:11px"></div>
<div class="c r" style="left:1375.3px;top:366px;width:8.3px;height:11px"></div>

<!-- intermediaries -->
<div class="h" style="left:1385.2px;top:303px;width:89px;height:15.6px">...ساير واسطه گريها [+]</div>
<div class="c r t" style="left:1385.2px;top:318.6px;width:48.3px;height:58.4px">وتعاون<br>-4.88%</div>
<div class="c g3 s" style="left:1433.5px;top:318.6px;width:19.5px;height:16px;font-size:7px">...و</div>
<div class="c r2 s" style="left:1453px;top:318.6px;width:21.2px;height:16px;font-size:7px">...و</div>
<div class="c r" style="left:1433.5px;top:334.6px;width:13px;height:42.4px"></div>
<div class="c r2" style="left:1446.5px;top:334.6px;width:14px;height:27px"></div>
<div class="c r2" style="left:1460.5px;top:334.6px;width:13.7px;height:27px"></div>
<div class="c r" style="left:1446.5px;top:361.6px;width:27.7px;height:7px"></div>
<div class="c r4" style="left:1446.5px;top:368.6px;width:27.7px;height:8.4px"></div>

<!-- telecom -->
<div class="h" style="left:1475.7px;top:303px;width:67.8px;height:15.6px">مخابرات [+]</div>
<div class="c r3 s" style="left:1475.7px;top:318.6px;width:36.3px;height:58.4px">همراه</div>
<div class="c r s" style="left:1512px;top:318.6px;width:31.5px;height:58.4px">اخابر</div>

<!-- agriculture -->
<div class="h" style="left:1287.8px;top:379.7px;width:78.5px;height:15.6px">...زراعت و خدما [+]</div>
<div class="c r3 s" style="left:1287.8px;top:395.3px;width:29.6px;height:47.2px">تليسه</div>
<div class="c r2 s" style="left:1317.4px;top:395.3px;width:29.4px;height:24.7px">زفكا</div>
<div class="c r2 s" style="left:1317.4px;top:420px;width:29.4px;height:22.5px">...س</div>
<div class="c r2" style="left:1346.8px;top:395.3px;width:19.5px;height:16px"></div>
<div class="c r2" style="left:1346.8px;top:411.3px;width:19.5px;height:11px"></div>
<div class="c r" style="left:1346.8px;top:422.3px;width:12px;height:11px"></div>
<div class="c r" style="left:1358.8px;top:422.3px;width:7.5px;height:11px"></div>
<div class="c g3" style="left:1346.8px;top:433.3px;width:12px;height:9.2px"></div>
<div class="c r" style="left:1358.8px;top:433.3px;width:7.5px;height:9.2px"></div>

<!-- hotel -->
<div class="h" style="left:1367.9px;top:379.7px;width:58.3px;height:15.6px">...هتل و ر [+]</div>
<div class="c r s" style="left:1367.9px;top:395.3px;width:43.2px;height:33.7px">آباد</div>
<div class="c r s" style="left:1367.9px;top:429px;width:43.2px;height:24.4px">گدنا</div>
<div class="c r" style="left:1411.1px;top:395.3px;width:15.1px;height:58.1px"></div>

<!-- rubber -->
<div class="h" style="left:1427.8px;top:379.7px;width:56.8px;height:15.6px">...لاستيك و [+]</div>
<div class="c r s" style="left:1427.8px;top:395.3px;width:31.6px;height:28.7px">پيزد</div>
<div class="c r s" style="left:1459.4px;top:395.3px;width:25.2px;height:28.7px">...پلا</div>
<div class="c r" style="left:1427.8px;top:424px;width:18px;height:29.4px"></div>
<div class="c r" style="left:1445.8px;top:424px;width:16px;height:29.4px"></div>
<div class="c r2" style="left:1461.8px;top:424px;width:22.8px;height:20px"></div>
<div class="c r" style="left:1461.8px;top:444px;width:12px;height:9.4px"></div>
<div class="c r4" style="left:1473.8px;top:444px;width:10.8px;height:9.4px"></div>

<!-- machine a -->
<div class="h" style="left:1486.5px;top:379.7px;width:57px;height:15.6px">...ماشين آ [+]</div>
<div class="c r s" style="left:1486.5px;top:395.3px;width:30.2px;height:43.7px">...بترا</div>
<div class="c g4 s" style="left:1516.7px;top:395.3px;width:26.8px;height:43.7px;background:#1f8a10">...بكا</div>
<div class="c r" style="left:1486.5px;top:439px;width:34px;height:14.4px"></div>
<div class="c r4" style="left:1520.5px;top:439px;width:12px;height:8px"></div>
<div class="c r" style="left:1532.5px;top:439px;width:11px;height:8px"></div>
<div class="c r" style="left:1520.5px;top:447px;width:23px;height:6.4px"></div>

<!-- textiles -->
<div class="h" style="left:1287.8px;top:445.2px;width:78.5px;height:14px">منسوجات [+]</div>
<div class="c g2" style="left:1287.8px;top:459.2px;width:51.7px;height:43.4px;font-size:4px;color:#063">نبشيه<br>%</div>
<div class="c r2 s" style="left:1339.5px;top:459.2px;width:26.8px;height:21.8px">...نخ</div>
<div class="c r s" style="left:1339.5px;top:481px;width:26.8px;height:21.6px">...نط</div>
<!-- tiles -->
<div class="h" style="left:1287.8px;top:504px;width:78.5px;height:16.4px">كاشي و سراميك [+]</div>
<div class="c r t" style="left:1287.8px;top:520.4px;width:72px;height:38.9px">كسرام<br>-5.26%</div>
<div class="c r2" style="left:1359.8px;top:520.4px;width:6.5px;height:20px"></div>
<div class="c r" style="left:1359.8px;top:540.4px;width:6.5px;height:18.9px"></div>

<!-- power -->
<div class="h" style="left:1367.9px;top:455.6px;width:74.1px;height:16.4px">...عرضه برق، گا [+]</div>
<div class="c r4 s" style="left:1367.9px;top:472px;width:25.2px;height:19px">...بم</div>
<div class="c r" style="left:1393.1px;top:472px;width:21px;height:19px"></div>
<div class="c r3" style="left:1414.1px;top:472px;width:16px;height:19px"></div>
<div class="c r" style="left:1430.1px;top:472px;width:11.9px;height:19px"></div>
<div class="c r3 s" style="left:1367.9px;top:491px;width:25.2px;height:19.8px">...م</div>
<div class="c g4" style="left:1393.1px;top:491px;width:21px;height:19.8px"></div>
<div class="c r" style="left:1414.1px;top:491px;width:10px;height:19.8px"></div>
<div class="c r" style="left:1424.1px;top:491px;width:17.9px;height:10px"></div>
<div class="c r3" style="left:1424.1px;top:501px;width:17.9px;height:9.8px"></div>

<!-- sugar -->
<div class="h" style="left:1367.9px;top:513.5px;width:74.1px;height:15px">قند و شكر [+]</div>
<div class="c r4 s" style="left:1367.9px;top:528.5px;width:26.8px;height:30.8px">قجار</div>
<div class="c r" style="left:1394.7px;top:528.5px;width:20.5px;height:30.8px"></div>
<div class="c g4 s" style="left:1415.2px;top:528.5px;width:26.8px;height:17.5px">...ق</div>
<div class="c r" style="left:1415.2px;top:546px;width:14px;height:13.3px"></div>
<div class="c r3" style="left:1429.2px;top:546px;width:12.8px;height:13.3px"></div>

<!-- info -->
<div class="h" style="left:1443.6px;top:455.6px;width:56.1px;height:16.4px">...اطلاعات [+]</div>
<div class="c r3 s" style="left:1443.6px;top:472px;width:33.1px;height:32px">... هاي</div>
<div class="c r2" style="left:1476.7px;top:472px;width:23px;height:16px"></div>
<div class="c r2" style="left:1476.7px;top:488px;width:23px;height:16px"></div>
<div class="h" style="left:1501.9px;top:455.6px;width:41.6px;height:16.4px">...اس [+]</div>
<div class="c r" style="left:1501.9px;top:472px;width:20px;height:32px"></div>
<div class="c r" style="left:1521.9px;top:472px;width:21.6px;height:22px"></div>
<div class="c r" style="left:1521.9px;top:494px;width:21.6px;height:10px"></div>

<div class="h" style="left:1443.6px;top:508px;width:30.9px;height:15px">... [+]</div>
<div class="c r s" style="left:1443.6px;top:523px;width:30.9px;height:31px">چكاپا</div>
<div class="c r2" style="left:1443.6px;top:554px;width:30.9px;height:5.3px"></div>
<div class="h" style="left:1476px;top:508px;width:36.3px;height:15px">...ا [+]</div>
<div class="c r2" style="left:1476px;top:523px;width:36.3px;height:11px"></div>
<div class="h" style="left:1476px;top:536.7px;width:36.3px;height:16.4px">...خر [+]</div>
<div class="c r" style="left:1476px;top:553.1px;width:36.3px;height:6.2px"></div>
<div class="h" style="left:1513.6px;top:508px;width:29.9px;height:15px">... [+]</div>
<div class="c r" style="left:1513.6px;top:523px;width:29.9px;height:3px"></div>
<div class="c r" style="left:1513.6px;top:553px;width:16px;height:4px"></div>
</div></body></html>
